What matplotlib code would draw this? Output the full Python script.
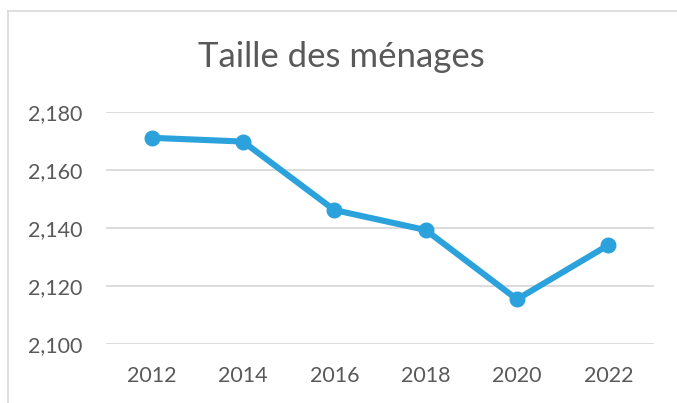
import matplotlib
matplotlib.use("Agg")
import matplotlib.pyplot as plt
from matplotlib.lines import Line2D
from matplotlib.ticker import FuncFormatter, MultipleLocator

years = ["2012", "2014", "2016", "2018", "2020", "2022"]
taille = [2.1710, 2.1697, 2.1461, 2.1392, 2.1153, 2.1340]
title = "Taille des ménages"

plt.rcParams['font.family'] = ['Lato', 'DejaVu Sans']
text_color = "#595959"
line_color = "#2CA2DC"

fig = plt.figure(figsize=(6.77, 4.03), dpi=100)
ax = fig.add_axes([106/677, 1 - 343.7/403, (654-106)/677, (343.7-111.7)/403])

x = list(range(len(years)))
ax.plot(x, taille, color=line_color, linewidth=4.4, marker='o', markersize=10.5,
        solid_capstyle='round', solid_joinstyle='round', zorder=3)

ax.set_xlim(-0.5, len(years) - 0.5)
ax.set_ylim(2.100, 2.180)
ax.yaxis.set_major_locator(MultipleLocator(0.02))
ax.yaxis.set_major_formatter(FuncFormatter(lambda v, p: f"{v:.3f}".replace('.', ',')))
ax.set_xticks(x)
ax.set_xticklabels(years)
ax.grid(axis='y', color='#D9D9D9', linewidth=1.3)
ax.set_axisbelow(True)
for s in ax.spines.values():
    s.set_visible(False)
ax.tick_params(axis='both', length=0, labelsize=15.5, colors=text_color)
ax.tick_params(axis='x', pad=16)
ax.tick_params(axis='y', pad=17)
for lbl in ax.get_yticklabels():
    lbl.set_horizontalalignment('right')

fig.text(341/677, 1 - 66.7/403, title, ha='center', va='baseline',
         fontsize=25, color=text_color)

# chart border
fig.add_artist(Line2D([8/677, 8/677], [0, 1 - 10.5/403], transform=fig.transFigure,
                      color='#D9D9D9', linewidth=1.2))
fig.add_artist(Line2D([8/677, 1], [1 - 10.5/403, 1 - 10.5/403], transform=fig.transFigure,
                      color='#D9D9D9', linewidth=1.2))

fig.savefig("out.png", dpi=100)
